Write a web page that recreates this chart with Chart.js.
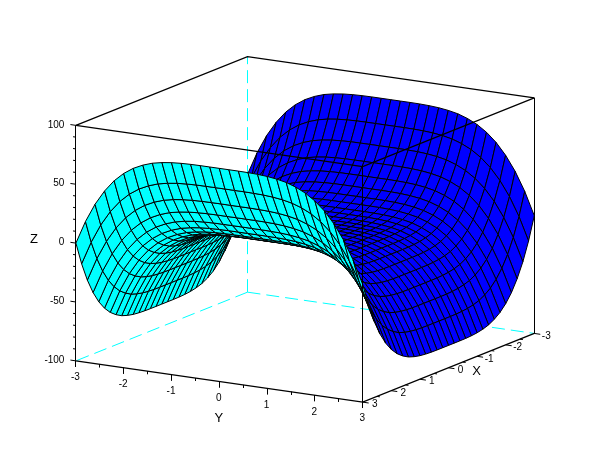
<!DOCTYPE html>
<html>
<head>
<meta charset="utf-8">
<title>surface</title>
<style>
  html, body { margin: 0; padding: 0; background: #ffffff; }
  canvas { display: block; }
</style>
<script src="https://cdn.jsdelivr.net/npm/chart.js@4/dist/chart.umd.min.js"></script>
</head>
<body>
<canvas id="surfaceChart" width="610" height="460"></canvas>
<script>
// grid of the surface, one step is 0.2
var xValues = [-3, -2.8, -2.6, -2.4, -2.2, -2, -1.8, -1.6, -1.4, -1.2, -1, -0.8, -0.6, -0.4, -0.2, 0, 0.2, 0.4, 0.6, 0.8, 1, 1.2, 1.4, 1.6, 1.8, 2, 2.2, 2.4, 2.6, 2.8, 3];
var yValues = [-3, -2.8, -2.6, -2.4, -2.2, -2, -1.8, -1.6, -1.4, -1.2, -1, -0.8, -0.6, -0.4, -0.2, 0, 0.2, 0.4, 0.6, 0.8, 1, 1.2, 1.4, 1.6, 1.8, 2, 2.2, 2.4, 2.6, 2.8, 3];

// z along y, one list for each |x|
var z30 = [0, 19.5, 35.3, 47.8, 57.6, 65, 70.5, 74.4, 77.2, 78.9, 80, 80.6, 80.9, 81, 81, 81, 81, 81, 80.9, 80.6, 80, 78.9, 77.2, 74.4, 70.5, 65, 57.6, 47.8, 35.3, 19.5, 0];
var z28 = [-19.5, 0, 15.8, 28.3, 38.1, 45.5, 51, 54.9, 57.7, 59.4, 60.5, 61.1, 61.4, 61.5, 61.5, 61.5, 61.5, 61.5, 61.4, 61.1, 60.5, 59.4, 57.7, 54.9, 51, 45.5, 38.1, 28.3, 15.8, 0, -19.5];
var z26 = [-35.3, -15.8, 0, 12.5, 22.3, 29.7, 35.2, 39.1, 41.9, 43.6, 44.7, 45.3, 45.6, 45.7, 45.7, 45.7, 45.7, 45.7, 45.6, 45.3, 44.7, 43.6, 41.9, 39.1, 35.2, 29.7, 22.3, 12.5, 0, -15.8, -35.3];
var z24 = [-47.8, -28.3, -12.5, 0, 9.8, 17.2, 22.7, 26.6, 29.4, 31.1, 32.2, 32.8, 33.1, 33.2, 33.2, 33.2, 33.2, 33.2, 33.1, 32.8, 32.2, 31.1, 29.4, 26.6, 22.7, 17.2, 9.8, 0, -12.5, -28.3, -47.8];
var z22 = [-57.6, -38.1, -22.3, -9.8, 0, 7.4, 12.9, 16.8, 19.6, 21.3, 22.4, 23, 23.3, 23.4, 23.4, 23.4, 23.4, 23.4, 23.3, 23, 22.4, 21.3, 19.6, 16.8, 12.9, 7.4, 0, -9.8, -22.3, -38.1, -57.6];
var z20 = [-65, -45.5, -29.7, -17.2, -7.4, 0, 5.5, 9.4, 12.2, 13.9, 15, 15.6, 15.9, 16, 16, 16, 16, 16, 15.9, 15.6, 15, 13.9, 12.2, 9.4, 5.5, 0, -7.4, -17.2, -29.7, -45.5, -65];
var z18 = [-70.5, -51, -35.2, -22.7, -12.9, -5.5, 0, 3.9, 6.7, 8.4, 9.5, 10.1, 10.4, 10.5, 10.5, 10.5, 10.5, 10.5, 10.4, 10.1, 9.5, 8.4, 6.7, 3.9, 0, -5.5, -12.9, -22.7, -35.2, -51, -70.5];
var z16 = [-74.4, -54.9, -39.1, -26.6, -16.8, -9.4, -3.9, 0, 2.8, 4.5, 5.6, 6.2, 6.5, 6.6, 6.6, 6.6, 6.6, 6.6, 6.5, 6.2, 5.6, 4.5, 2.8, 0, -3.9, -9.4, -16.8, -26.6, -39.1, -54.9, -74.4];
var z14 = [-77.2, -57.7, -41.9, -29.4, -19.6, -12.2, -6.7, -2.8, 0, 1.7, 2.8, 3.4, 3.7, 3.8, 3.8, 3.8, 3.8, 3.8, 3.7, 3.4, 2.8, 1.7, 0, -2.8, -6.7, -12.2, -19.6, -29.4, -41.9, -57.7, -77.2];
var z12 = [-78.9, -59.4, -43.6, -31.1, -21.3, -13.9, -8.4, -4.5, -1.7, 0, 1.1, 1.7, 2, 2.1, 2.1, 2.1, 2.1, 2.1, 2, 1.7, 1.1, 0, -1.7, -4.5, -8.4, -13.9, -21.3, -31.1, -43.6, -59.4, -78.9];
var z10 = [-80, -60.5, -44.7, -32.2, -22.4, -15, -9.5, -5.6, -2.8, -1.1, 0, 0.6, 0.9, 1, 1, 1, 1, 1, 0.9, 0.6, 0, -1.1, -2.8, -5.6, -9.5, -15, -22.4, -32.2, -44.7, -60.5, -80];
var z08 = [-80.6, -61.1, -45.3, -32.8, -23, -15.6, -10.1, -6.2, -3.4, -1.7, -0.6, 0, 0.3, 0.4, 0.4, 0.4, 0.4, 0.4, 0.3, 0, -0.6, -1.7, -3.4, -6.2, -10.1, -15.6, -23, -32.8, -45.3, -61.1, -80.6];
var z06 = [-80.9, -61.4, -45.6, -33.1, -23.3, -15.9, -10.4, -6.5, -3.7, -2, -0.9, -0.3, 0, 0.1, 0.1, 0.1, 0.1, 0.1, 0, -0.3, -0.9, -2, -3.7, -6.5, -10.4, -15.9, -23.3, -33.1, -45.6, -61.4, -80.9];
var z00 = [-81, -61.5, -45.7, -33.2, -23.4, -16, -10.5, -6.6, -3.8, -2.1, -1, -0.4, -0.1, 0, 0, 0, 0, 0, -0.1, -0.4, -1, -2.1, -3.8, -6.6, -10.5, -16, -23.4, -33.2, -45.7, -61.5, -81];
var zRows = [z30, z28, z26, z24, z22, z20, z18, z16, z14, z12, z10, z08, z06, z00, z00, z00, z00, z00, z06, z08, z10, z12, z14, z16, z18, z20, z22, z24, z26, z28, z30];

// axis ticks
var xTicks = [3, 2, 1, 0, -1, -2, -3];
var yTicks = [-3, -2, -1, 0, 1, 2, 3];
var zTicks = [100, 50, 0, -50, -100];
var xMinorTicks = [2.5, 1.5, 0.5, -0.5, -1.5, -2.5];
var yMinorTicks = [-2.5, -1.5, -0.5, 0.5, 1.5, 2.5];
var zMinorTicks = [90, 80, 70, 60, 40, 30, 20, 10, -10, -20, -30, -40, -60, -70, -80, -90];

// view of the box, orthographic
var viewX = 305.1, viewY = 229.4, zScale = 1.1775;
var xDir = [-28.6, 11.45], yDir = [47.8, 6.88];

var topColor = "#0000ff", underColor = "#00ffff", lineColor = "#000000";

function project(x, y, z) {
  return {
    x: viewX + xDir[0] * x + yDir[0] * y,
    y: viewY + xDir[1] * x + yDir[1] * y - zScale * z
  };
}

// vertical lines sit on a pixel column
function projectUp(x, y, z) {
  var p = project(x, y, z);
  p.x = Math.floor(p.x) + 0.5;
  return p;
}

function makeLine(points, color, dash, width) {
  return {
    type: "scatter",
    data: points,
    showLine: true,
    fill: false,
    pointRadius: 0,
    borderWidth: width || 1,
    borderColor: color,
    borderDash: dash || []
  };
}

function makeCell(i, j) {
  var a = project(xValues[i], yValues[j], zRows[i][j]);
  var b = project(xValues[i + 1], yValues[j], zRows[i + 1][j]);
  var c = project(xValues[i + 1], yValues[j + 1], zRows[i + 1][j + 1]);
  var d = project(xValues[i], yValues[j + 1], zRows[i][j + 1]);
  // screen orientation of the cell tells which side we look at
  var turn = (c.x - a.x) * (d.y - b.y) - (c.y - a.y) * (d.x - b.x);
  return {
    type: "scatter",
    data: [a, b, c, d, a],
    showLine: true,
    fill: "shape",
    pointRadius: 0,
    borderWidth: 1,
    borderColor: lineColor,
    backgroundColor: turn < 0 ? topColor : underColor
  };
}

function frontLines() {
  var lines = [], i;
  lines.push(makeLine([projectUp(3, 3, -100), projectUp(3, 3, 100)], lineColor));
  lines.push(makeLine([project(3, -3, 100), project(3, 3, 100), project(-3, 3, 100)], lineColor, null, 1.3));
  lines.push(makeLine([project(3, -3, -100), project(3, 3, -100), project(-3, 3, -100)], lineColor, null, 1.4));
  lines.push(makeLine([projectUp(3, -3, -100), projectUp(3, -3, 100)], lineColor));
  for (i = 0; i < xTicks.length; i++) {
    lines.push(makeLine([project(xTicks[i], 3, -100), project(xTicks[i], 3.125, -100)], lineColor));
  }
  for (i = 0; i < xMinorTicks.length; i++) {
    lines.push(makeLine([project(xMinorTicks[i], 3, -100), project(xMinorTicks[i], 3.06, -100)], lineColor));
  }
  for (i = 0; i < yTicks.length; i++) {
    lines.push(makeLine([projectUp(3, yTicks[i], -100), projectUp(3, yTicks[i], -105)], lineColor));
  }
  for (i = 0; i < yMinorTicks.length; i++) {
    lines.push(makeLine([projectUp(3, yMinorTicks[i], -100), projectUp(3, yMinorTicks[i], -102.5)], lineColor));
  }
  for (i = 0; i < zTicks.length; i++) {
    lines.push(makeLine([project(3, -3, zTicks[i]), project(3, -3.115, zTicks[i])], lineColor));
  }
  for (i = 0; i < zMinorTicks.length; i++) {
    lines.push(makeLine([project(3, -3, zMinorTicks[i]), project(3, -3.06, zMinorTicks[i])], lineColor));
  }
  return lines;
}

function backLines() {
  var lines = [];
  lines.push(makeLine([project(3, -3, 100), project(-3, -3, 100), project(-3, 3, 100)], lineColor, null, 1.3));
  lines.push(makeLine([projectUp(-3, 3, 100), projectUp(-3, 3, -100)], lineColor));
  lines.push(makeLine([project(-3, -3, -100), project(3, -3, -100)], underColor, [13, 6]));
  lines.push(makeLine([project(-3, -3, -100), project(-3, 3, -100)], underColor, [13, 6]));
  lines.push(makeLine([projectUp(-3, -3, -100), projectUp(-3, -3, 100)], underColor, [13, 6]));
  return lines;
}

function buildDatasets() {
  // chart.js paints the last dataset first, so the front of the picture comes first here
  var datasets = frontLines();
  for (var i = xValues.length - 2; i >= 0; i--) {
    for (var j = yValues.length - 2; j >= 0; j--) {
      datasets.push(makeCell(i, j));
    }
  }
  return datasets.concat(backLines());
}

function putText(chart, text, p, dx, dy, size, align) {
  var ctx = chart.ctx;
  ctx.font = size + "px 'Liberation Sans', Arial, sans-serif";
  ctx.fillStyle = lineColor;
  ctx.textAlign = align || "center";
  ctx.textBaseline = "middle";
  ctx.fillText(text, chart.scales.x.getPixelForValue(p.x) + dx, chart.scales.y.getPixelForValue(p.y) + dy);
}

var axisText = {
  id: "axisText",
  afterDraw: function (chart) {
    var i;
    chart.ctx.save();
    for (i = 0; i < xTicks.length; i++) {
      putText(chart, String(xTicks[i]), project(xTicks[i], 3, -100), 12, 2.5, 10);
    }
    for (i = 0; i < yTicks.length; i++) {
      putText(chart, String(yTicks[i]), project(3, yTicks[i], -100), -0.5, 16.5, 10);
    }
    for (i = 0; i < zTicks.length; i++) {
      putText(chart, String(zTicks[i]), project(3, -3, zTicks[i]), -11.5, -0.5, 10, "right");
    }
    putText(chart, "X", project(0, 3, -100), 28, 3.5, 13);
    putText(chart, "Y", project(3, 0, -100), -0.5, 37, 13);
    putText(chart, "Z", project(3, -3, 0), -42, -4, 13);
    chart.ctx.restore();
  }
};

new Chart(document.getElementById("surfaceChart"), {
  type: "scatter",
  data: { datasets: buildDatasets() },
  plugins: [axisText],
  options: {
    responsive: false,
    animation: false,
    events: [],
    layout: { padding: 0 },
    plugins: { legend: { display: false }, tooltip: { enabled: false } },
    scales: {
      x: { type: "linear", display: false, min: 0, max: 610 },
      y: { type: "linear", display: false, min: 0, max: 460, reverse: true }
    }
  }
});
</script>
</body>
</html>
